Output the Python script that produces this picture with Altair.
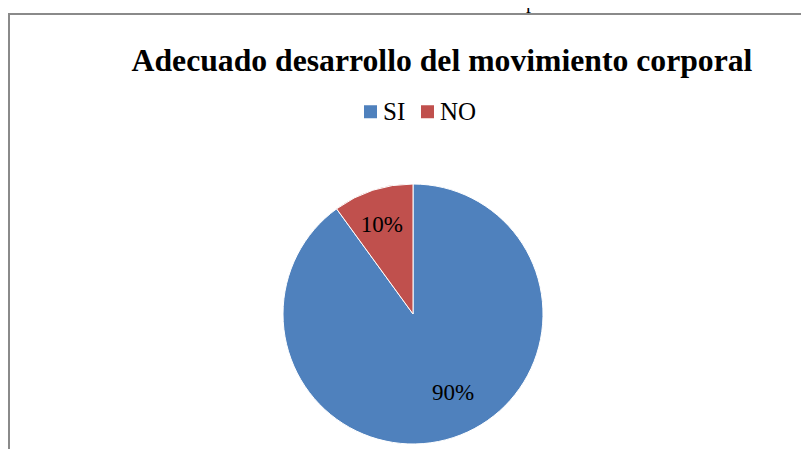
import altair as alt
import pandas as pd

categories = ["SI", "NO"]
values = [90, 10]
labels = ["90%", "10%"]
colors = ["#4F81BD", "#C0504D"]
title_text = "Adecuado desarrollo del movimiento corporal"
header_bold = "Gráfico N° 16:"
header_rest = "Movimiento Corporal"

W, H = 793, 441
FONT = "Liberation Serif"

df = pd.DataFrame({"category": categories, "value": values, "label": labels,
                   "order": list(range(len(categories)))})

cx, cy, R = 405, 306, 130

pie = alt.Chart(df).mark_arc(outerRadius=R, stroke="white", strokeWidth=1).encode(
    theta=alt.Theta("value:Q", stack=True),
    color=alt.Color("category:N", scale=alt.Scale(domain=categories, range=colors),
                    legend=alt.Legend(orient="none", legendX=350, legendY=91, direction="horizontal",
                                      title=None, symbolType="square", symbolSize=169,
                                      symbolStrokeWidth=0, labelFont=FONT, labelFontSize=25,
                                      labelColor="black", labelOffset=0, columnPadding=9,
                                      symbolOpacity=1)),
    order=alt.Order("order:Q"),
    x=alt.value(cx), y=alt.value(cy),
)

base_text = alt.Chart(df).transform_window(
    cum="sum(value)", sort=[alt.SortField("order")]
).transform_calculate(
    mid="datum.cum - datum.value / 2"
).encode(
    theta=alt.Theta("mid:Q"),
    text="label:N",
    x=alt.value(cx), y=alt.value(cy),
)
lab_si = base_text.transform_filter(alt.datum.category == "SI").mark_text(
    radius=88, dx=13, dy=-5, font=FONT, fontSize=23, color="black", baseline="middle", align="center")
lab_no = base_text.transform_filter(alt.datum.category == "NO").mark_text(
    radius=94, dx=-2, font=FONT, fontSize=23, color="black", baseline="middle", align="center")

one = pd.DataFrame({"t": [title_text]})
title = alt.Chart(one).mark_text(font=FONT, fontSize=31.7, fontWeight="bold", color="black",
                                 baseline="alphabetic", align="center").encode(
    x=alt.value(434), y=alt.value(63), text="t:N")

hb = alt.Chart(pd.DataFrame({"t": [header_bold]})).mark_text(
    font=FONT, fontSize=20, fontWeight="bold", color="black", baseline="alphabetic", align="right").encode(
    x=alt.value(377), y=alt.value(0), text="t:N")
hr = alt.Chart(pd.DataFrame({"t": [header_rest]})).mark_text(
    font=FONT, fontSize=20, color="black", baseline="alphabetic", align="left").encode(
    x=alt.value(384), y=alt.value(0), text="t:N")

left_line = alt.Chart(one).mark_rule(color="#8a8a8a", strokeWidth=2).encode(
    x=alt.value(1), y=alt.value(5), y2=alt.value(H))
top_line = alt.Chart(one).mark_rule(color="#8a8a8a", strokeWidth=2).encode(
    x=alt.value(0), x2=alt.value(W), y=alt.value(6))

chart = alt.layer(left_line, top_line, pie, lab_si, lab_no, title, hb, hr).properties(
    width=W, height=H, padding=0, autosize=alt.AutoSizeParams(type="none")
).configure_view(stroke=None).configure_legend(
    labelFont=FONT, labelFontSize=25, labelColor="black", labelLimit=0
)

chart.save("out.html", embed_options={"renderer": "svg", "actions": False})
